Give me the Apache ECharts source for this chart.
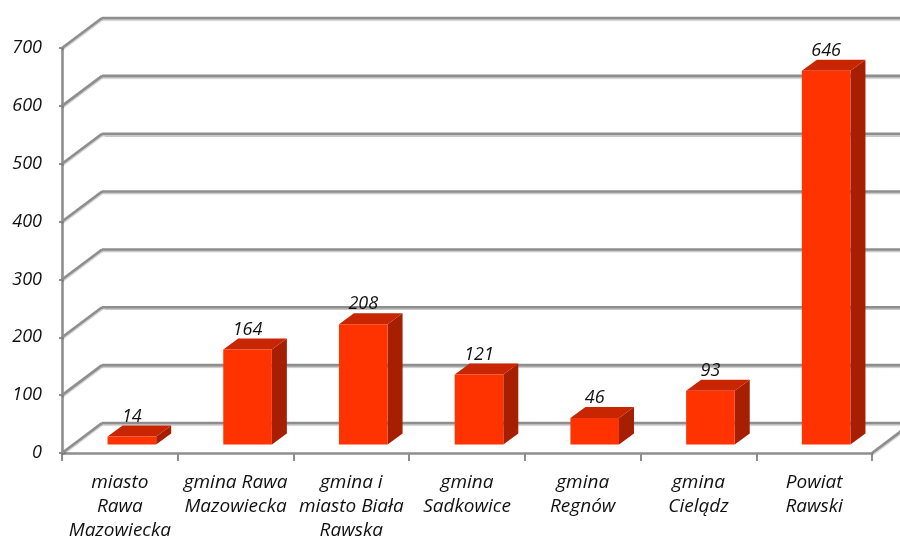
<!DOCTYPE html>
<html>
<head>
<meta charset="utf-8">
<script src="https://cdn.jsdelivr.net/npm/echarts@6/dist/echarts.min.js"></script>
<style>html,body{margin:0;padding:0;background:#fff}#c{width:900px;height:540px}</style>
</head>
<body>
<div id="c"></div>
<script>
const categories = [
  'miasto\nRawa\nMazowiecka',
  'gmina Rawa\nMazowiecka',
  'gmina i\nmiasto Biała\nRawska',
  'gmina\nSadkowice',
  'gmina\nRegnów',
  'gmina\nCielądz',
  'Powiat\nRawski'
];
const values = [14, 164, 208, 121, 46, 93, 646];
const yMin = 0, yMax = 700, yStep = 100;
const gridValues = [0, 100, 200, 300, 400, 500, 600, 700];

const FONT = 'Open Sans';
const GRID_COLOR = '#8e8e8e';
const WALL_DX = 40, WALL_DY = -30;
const BAR_DX = 12, BAR_DY = -8.5;
const BAR_DEPTH_DX = 15, BAR_DEPTH_DY = -11;

const chart = echarts.init(document.getElementById('c'));

function lineShape(x1, y1, x2, y2) {
  return {
    type: 'line',
    shape: {x1, y1, x2, y2},
    style: {stroke: GRID_COLOR, lineWidth: 2.6, shadowColor: 'rgba(0,0,0,0.22)', shadowOffsetY: 1.5, shadowBlur: 1}
  };
}

chart.setOption({
  animation: false,
  grid: {left: 62, right: 28, top: 48, bottom: 87, containLabel: false, outerBoundsMode: 'none'},
  xAxis: {
    type: 'category',
    data: categories,
    axisLine: {lineStyle: {color: GRID_COLOR, width: 2.6}},
    axisTick: {show: true, length: 8, lineStyle: {color: GRID_COLOR, width: 2}},
    axisLabel: {
      interval: 0, margin: 18,
      fontFamily: FONT, fontStyle: 'italic', fontSize: 19, lineHeight: 24, color: '#111'
    },
    splitLine: {show: false}
  },
  yAxis: {
    type: 'value',
    min: yMin, max: yMax, interval: yStep,
    axisLine: {show: true, lineStyle: {color: GRID_COLOR, width: 2.6}},
    axisTick: {show: true, length: 3, lineStyle: {color: GRID_COLOR, width: 2}},
    axisLabel: {margin: 20, fontFamily: FONT, fontStyle: 'italic', fontSize: 18, color: '#111'},
    splitLine: {show: false}
  },
  series: [
    {
      type: 'custom',
      z: 1,
      silent: true,
      data: gridValues.map(v => [0, v]),
      renderItem: function (params, api) {
        const cs = params.coordSys;
        const y = api.coord([0, api.value(1)])[1];
        const children = [
          lineShape(cs.x, y, cs.x + WALL_DX, y + WALL_DY),
          lineShape(cs.x + WALL_DX, y + WALL_DY, cs.x + cs.width + WALL_DX + 20, y + WALL_DY)
        ];
        if (api.value(1) === yMin) {
          children.push(lineShape(cs.x + cs.width, y, cs.x + cs.width + WALL_DX, y + WALL_DY));
        }
        return {type: 'group', children};
      }
    },
    {
      type: 'custom',
      z: 3,
      data: values.map((v, i) => [i, v]),
      renderItem: function (params, api) {
        const i = api.value(0), v = api.value(1);
        const top = api.coord([i, v]);
        const base = api.coord([i, 0]);
        const cw = api.size([1, 0])[0];
        const bw = cw * 0.42;
        const x0 = top[0] - bw / 2 + BAR_DX;
        const y0 = top[1] + BAR_DY;
        const y1 = base[1] + BAR_DY;
        const dx = BAR_DEPTH_DX, dy = BAR_DEPTH_DY;
        return {
          type: 'group',
          children: [
            {
              type: 'polygon',
              shape: {points: [[x0 + bw, y0], [x0 + bw + dx, y0 + dy], [x0 + bw + dx, y1 + dy], [x0 + bw, y1]]},
              style: {fill: '#a51f00'}
            },
            {
              type: 'polygon',
              shape: {points: [[x0, y0], [x0 + bw, y0], [x0 + bw + dx, y0 + dy], [x0 + dx, y0 + dy]]},
              style: {fill: '#c72600'}
            },
            {
              type: 'rect',
              shape: {x: x0, y: y0, width: bw, height: y1 - y0},
              style: {fill: '#ff3300'}
            },
            {
              type: 'text',
              style: {
                x: x0 + bw / 2, y: y0 + dy,
                text: String(v),
                textAlign: 'center', textVerticalAlign: 'bottom',
                font: 'italic 18px "' + FONT + '"',
                fill: '#111'
              }
            }
          ]
        };
      }
    }
  ]
});
</script>
</body>
</html>
